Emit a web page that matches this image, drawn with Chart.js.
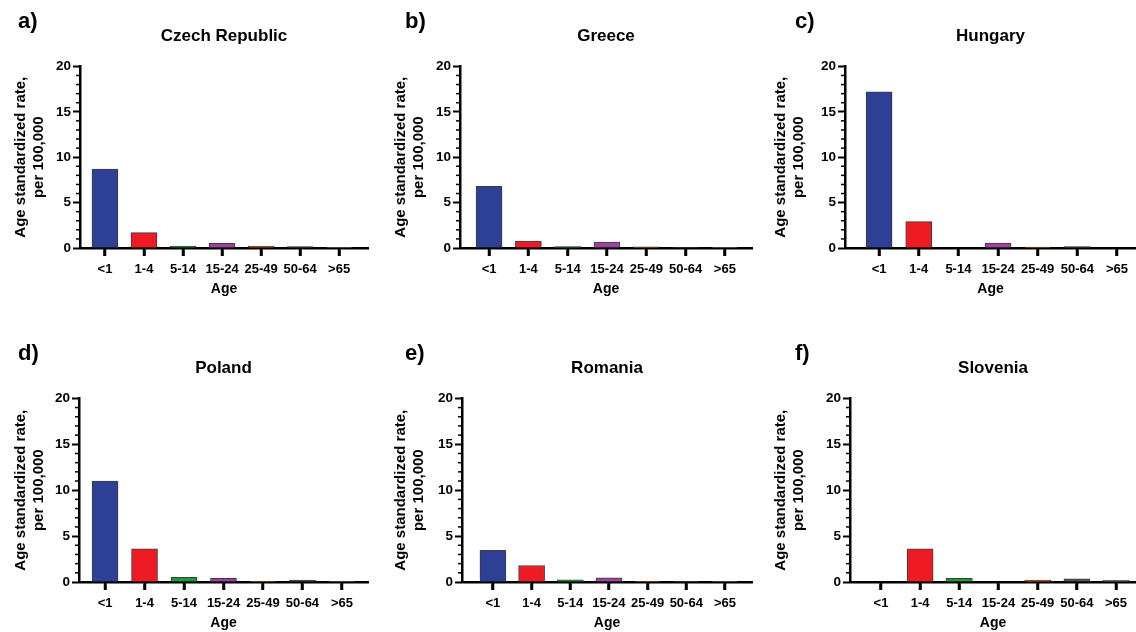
<!DOCTYPE html>
<html>
<head>
<meta charset="utf-8">
<script src="https://cdn.jsdelivr.net/npm/chart.js@4.4.1/dist/chart.umd.min.js"></script>
<style>
  body { margin: 0; background: #fff; }
  #wrap { position: relative; width: 1136px; height: 632px; overflow: hidden; font-family: "Liberation Sans", Arial, sans-serif; }
  .panel { position: absolute; }
  .panel canvas { display: block; }
  .letter { position: absolute; font-weight: bold; font-size: 22px; line-height: 22px; color: #000; }
</style>
</head>
<body>
<div id="wrap"></div>
<script>
// age groups (x categories) and rates per 100,000 per country
const ageGroups = ['<1', '1-4', '5-14', '15-24', '25-49', '50-64', '>65'];
const czechRates    = [8.7, 1.7, 0.22, 0.52, 0.22, 0.15, 0.03];
const greeceRates   = [6.8, 0.75, 0.15, 0.65, 0.12, 0.05, 0.04];
const hungaryRates  = [17.2, 2.9, 0, 0.55, 0.1, 0.15, 0];
const polandRates   = [11.0, 3.6, 0.5, 0.4, 0.04, 0.2, 0.04];
const romaniaRates  = [3.45, 1.8, 0.25, 0.45, 0.04, 0.03, 0.03];
const sloveniaRates = [0, 3.6, 0.4, 0, 0.2, 0.35, 0.18];

const countries = ['Czech Republic', 'Greece', 'Hungary', 'Poland', 'Romania', 'Slovenia'];
const panelLetters = ['a)', 'b)', 'c)', 'd)', 'e)', 'f)'];
const allRates = [czechRates, greeceRates, hungaryRates, polandRates, romaniaRates, sloveniaRates];
const yTicks = [0, 5, 10, 15, 20];

const barColors = ['#2e3f96', '#ed1c24', '#1f9a3a', '#a0409f', '#e06a1e', '#555555', '#8a8a8a'];

// panel geometry (canvas placement and plot area inside each canvas)
const panels = [
  { x: 0,   y: 0,   w: 376, h: 310, left: 80, right: 368, bottom: 248, xMin: -0.64, xMax: 6.74, lx: 18,  ly: 10 },
  { x: 380, y: 0,   w: 376, h: 310, left: 80, right: 372, bottom: 248, xMin: -0.74, xMax: 6.69, lx: 405, ly: 10 },
  { x: 760, y: 0,   w: 376, h: 310, left: 85, right: 376, bottom: 248, xMin: -0.86, xMax: 6.48, lx: 795, ly: 10 },
  { x: 0,   y: 332, w: 376, h: 300, left: 79, right: 368, bottom: 250, xMin: -0.66, xMax: 6.66, lx: 18,  ly: 342 },
  { x: 380, y: 332, w: 376, h: 300, left: 82, right: 372, bottom: 250, xMin: -0.80, xMax: 6.70, lx: 405, ly: 342 },
  { x: 760, y: 332, w: 376, h: 300, left: 90, right: 376, bottom: 250, xMin: -0.79, xMax: 6.51, lx: 795, ly: 342 }
];

Chart.defaults.font.family = '"Liberation Sans", Arial, sans-serif';
Chart.defaults.color = '#000';

const X_SCALE_H = 50;

// tick marks: short minor ones on y, category ticks below the x axis
const axisTicks = {
  id: 'axisTicks',
  afterDraw(chart) {
    const { x, y } = chart.scales;
    const ctx = chart.ctx;
    ctx.save();
    ctx.strokeStyle = '#000';
    ctx.lineWidth = 1.5;
    for (let v = y.min; v <= y.max; v++) {
      if (v % 5 === 0) continue;
      const py = y.getPixelForValue(v);
      ctx.beginPath();
      ctx.moveTo(y.right - 4, py);
      ctx.lineTo(y.right, py);
      ctx.stroke();
    }
    ctx.lineWidth = 2.5;
    const base = chart.chartArea.bottom;
    ageGroups.forEach((g, i) => {
      const px = Math.round(x.getPixelForValue(i));
      ctx.beginPath();
      ctx.moveTo(px, base);
      ctx.lineTo(px, base + 8);
      ctx.stroke();
    });
    ctx.restore();
  }
};

const wrap = document.getElementById('wrap');

panels.forEach((p, idx) => {
  const box = document.createElement('div');
  box.className = 'panel';
  box.style.left = p.x + 'px';
  box.style.top = p.y + 'px';
  const canvas = document.createElement('canvas');
  canvas.width = p.w;
  canvas.height = p.h;
  canvas.style.width = p.w + 'px';
  canvas.style.height = p.h + 'px';
  box.appendChild(canvas);
  wrap.appendChild(box);

  const letter = document.createElement('div');
  letter.className = 'letter';
  letter.textContent = panelLetters[idx];
  letter.style.left = p.lx + 'px';
  letter.style.top = p.ly + 'px';
  wrap.appendChild(letter);

  const rates = allRates[idx];

  new Chart(canvas, {
    type: 'bar',
    data: {
      datasets: [{
        data: rates.map((v, i) => ({ x: i, y: v })),
        backgroundColor: barColors,
        borderColor: '#3c3c3c',
        borderWidth: 1,
        barThickness: 26
      }]
    },
    options: {
      responsive: false,
      animation: false,
      layout: {
        padding: { top: 26, left: 0, right: p.w - p.right, bottom: p.h - p.bottom - X_SCALE_H }
      },
      plugins: {
        legend: { display: false },
        tooltip: { enabled: false },
        title: {
          display: true,
          text: countries[idx],
          fullSize: false,
          color: '#000',
          font: { size: 17, weight: 'bold', lineHeight: 1.2 },
          padding: { top: 0, bottom: 20 }
        }
      },
      scales: {
        x: {
          type: 'linear',
          offset: false,
          min: p.xMin,
          max: p.xMax,
          afterBuildTicks: s => { s.ticks = ageGroups.map((g, i) => ({ value: i })); },
          afterFit: s => { s.height = X_SCALE_H; },
          ticks: {
            callback: v => ageGroups[v],
            color: '#000',
            font: { size: 13, weight: 'bold' },
            maxRotation: 0,
            autoSkip: false,
            padding: 6
          },
          grid: { offset: false, drawOnChartArea: false, tickLength: 8, tickWidth: 2.5, tickColor: '#000' },
          border: { color: '#000', width: 2.5 },
          title: {
            display: true,
            text: 'Age',
            color: '#000',
            font: { size: 14, weight: 'bold', lineHeight: 1.2 },
            padding: 0
          }
        },
        y: {
          min: 0,
          max: 20,
          afterBuildTicks: s => { s.ticks = yTicks.map(v => ({ value: v })); },
          afterFit: s => { s.width = p.left; },
          ticks: { color: '#000', font: { size: 13.5, weight: 'bold' }, padding: 2 },
          grid: { drawOnChartArea: false, tickLength: 7, tickWidth: 2, tickColor: '#000' },
          border: { color: '#000', width: 2.5 },
          title: {
            display: true,
            text: ['Age standardized rate,', 'per 100,000'],
            color: '#000',
            font: { size: 15, weight: 'bold', lineHeight: 1.2 },
            padding: { top: 12, bottom: 0 }
          }
        }
      }
    },
    plugins: [axisTicks]
  });
});
</script>
</body>
</html>
